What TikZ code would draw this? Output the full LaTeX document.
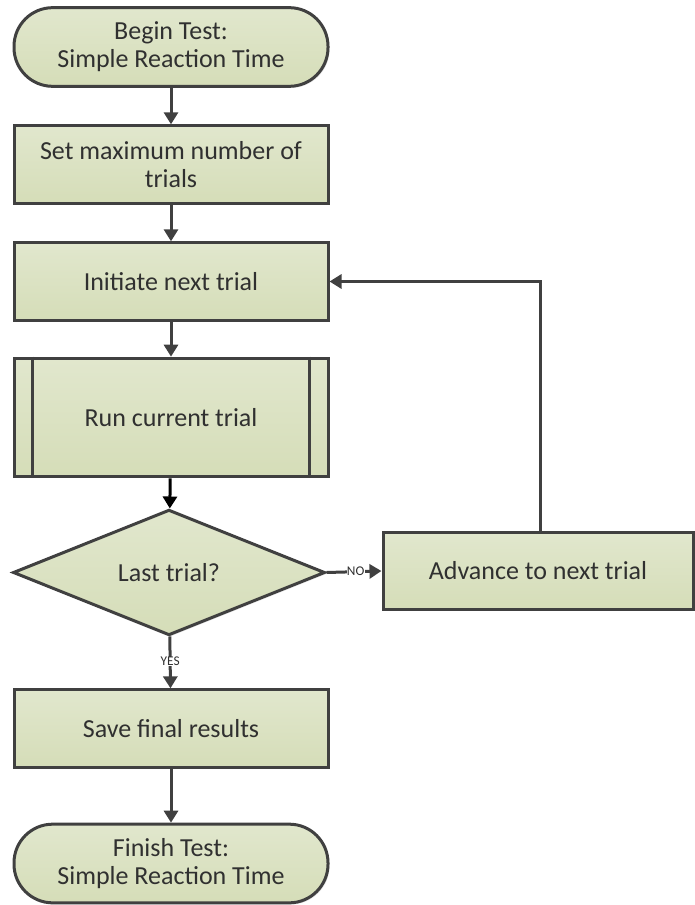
\documentclass[tikz,border=0pt]{standalone}
\usepackage{fontspec}
\setmainfont{Carlito}
\usetikzlibrary{arrows.meta, shapes.geometric, shadows}

\definecolor{edge}{HTML}{404040}
\definecolor{ink}{HTML}{303030}
\definecolor{filltop}{HTML}{E1E7CD}
\definecolor{fillbot}{HTML}{D5DDB8}

\tikzset{
	block/.style = {draw = edge, line width = 2.25pt, top color = filltop, bottom color = fillbot,
		text = ink, align = center, minimum width = 235.5pt,
		drop shadow = {opacity = 0.2, shadow xshift = 1.2pt, shadow yshift = -1.2pt}},
	terminal/.style = {block, rounded corners = 29pt, minimum height = 59pt},
	process/.style = {block, minimum height = 58pt},
	decision/.style = {block, diamond, minimum width = 234pt, minimum height = 88pt, inner sep = 1pt},
	flow/.style = {-{Triangle[length = 9pt, width = 10.5pt]}, draw = edge, line width = 2.25pt},
	tag/.style = {font = \fontsize{10}{11}\selectfont, fill = white, inner sep = 0.3pt, text = ink}
}

\begin{document}
\begin{tikzpicture}[x = 0.75pt, y = -0.75pt, font = \fontsize{19.5}{21}\selectfont]

\useasboundingbox (0, 0) rectangle (694, 905);

% main column
\node [terminal] (begin) at (171, 47) {Begin Test:\\Simple Reaction Time};
\node [process] (setmax) at (171, 164.5) {Set maximum number of\\trials};
\node [process] (init) at (171, 281.5) {Initiate next trial};
\node [process, minimum height = 89pt] (run) at (171, 417.5) {Run current trial};
\node [decision] (last) at (169, 572.5) {Last trial?};
\node [process] (save) at (171, 728.5) {Save final results};
\node [terminal] (finish) at (171, 863.5) {Finish Test:\\Simple Reaction Time};

% side branch
\node [process, minimum width = 232.5pt] (advance) at (538, 571) {Advance to next trial};
\coordinate (turn) at (540, 282);

% sub-process bars
\draw [draw = edge, line width = 2.25pt] ([xshift = 15pt] run.north west) -- ([xshift = 15pt] run.south west);
\draw [draw = edge, line width = 2.25pt] ([xshift = -15pt] run.north east) -- ([xshift = -15pt] run.south east);

\draw [flow] (begin) -- (setmax);
\draw [flow] (setmax) -- (init);
\draw [flow] (init) -- (run);
\draw [flow, draw = black] (run) -- (last);
\draw [flow] (last) -- node [tag, pos = 0.48] {YES} (save);
\draw [flow] (save) -- (finish);

\draw [flow] (last.east) -- node [tag, pos = 0.53] {NO} (advance.west);
\draw [flow] (advance.north -| turn) |- (init.east);

\end{tikzpicture}
\end{document}
